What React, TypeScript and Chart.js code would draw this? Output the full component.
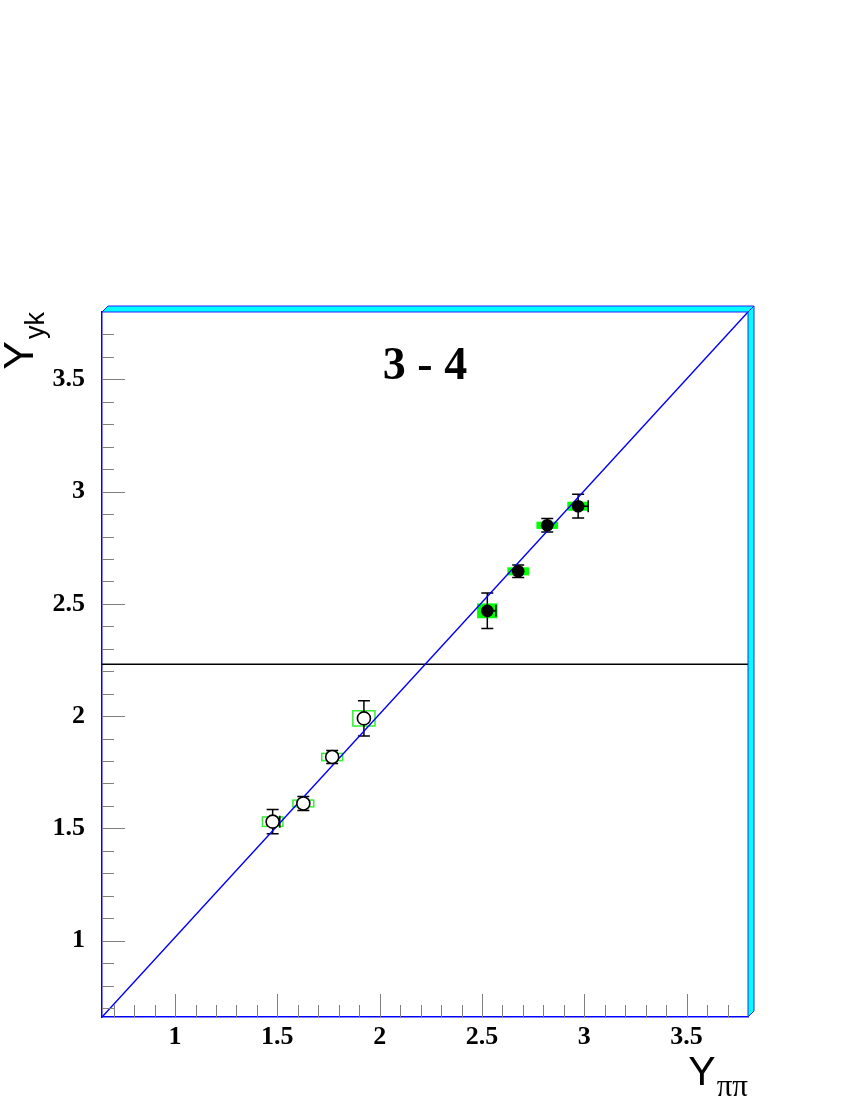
import React, { useEffect, useRef } from 'react';
import { Chart, registerables } from 'chart.js';

Chart.register(...registerables);

// Axis ranges
const xRange = [0.643, 3.8];
const yRange = [0.66, 3.8];

// Filled points (black markers, solid green systematic boxes)
const filledX = [2.526, 2.677, 2.819, 2.970];
const filledY = [2.469, 2.645, 2.850, 2.935];
const filledYErr = [0.079, 0.028, 0.030, 0.053];
const filledXErrHigh = [0.042, 0, 0, 0.049];
const filledSysX = [0.050, 0.053, 0.053, 0.053];
const filledSysY = [0.033, 0.018, 0.016, 0.020];

// Open points (white markers, outlined green systematic boxes)
const openX = [1.477, 1.627, 1.768, 1.923];
const openY = [1.530, 1.611, 1.818, 1.990];
const openYErr = [0.054, 0.031, 0.029, 0.079];
const openXErrHigh = [0.035, 0, 0, 0];
const openSysX = [0.050, 0.051, 0.051, 0.054];
const openSysY = [0.021, 0.015, 0.016, 0.034];

// Reference lines
const diagX = [0.643, 3.8];
const diagY = [0.66, 3.8];
const horizX = [0.643, 3.8];
const horizY = [2.231, 2.231];

const titleText = '3 - 4';

const isMajor = (v: number) => Math.abs(v * 2 - Math.round(v * 2)) < 1e-6;
const fmt = (v: number) => (isMajor(v) ? String(Math.round(v * 2) / 2) : '');

export default function App() {
  const ref = useRef<HTMLCanvasElement>(null);

  useEffect(() => {
    const canvas = ref.current!;

    const boxesAndErrors = {
      id: 'boxesAndErrors',
      beforeDatasetsDraw(chart: any) {
        const { ctx, chartArea, scales } = chart;
        const xs = scales.x, ys = scales.y;
        ctx.save();
        ctx.beginPath();
        ctx.rect(chartArea.left, chartArea.top, chartArea.right - chartArea.left, chartArea.bottom - chartArea.top);
        ctx.clip();
        // filled boxes
        ctx.fillStyle = '#00ff00';
        filledX.forEach((x, i) => {
          const x0 = xs.getPixelForValue(x - filledSysX[i]);
          const x1 = xs.getPixelForValue(x + filledSysX[i]);
          const y0 = ys.getPixelForValue(filledY[i] + filledSysY[i]);
          const y1 = ys.getPixelForValue(filledY[i] - filledSysY[i]);
          ctx.fillRect(x0, y0, x1 - x0, y1 - y0);
        });
        // open boxes
        ctx.strokeStyle = '#33ee33';
        ctx.lineWidth = 1.5;
        openX.forEach((x, i) => {
          const x0 = xs.getPixelForValue(x - openSysX[i]);
          const x1 = xs.getPixelForValue(x + openSysX[i]);
          const y0 = ys.getPixelForValue(openY[i] + openSysY[i]);
          const y1 = ys.getPixelForValue(openY[i] - openSysY[i]);
          ctx.strokeRect(x0, y0, x1 - x0, y1 - y0);
        });
        // error bars
        ctx.strokeStyle = '#000';
        ctx.lineWidth = 1.5;
        const cap = 6;
        const drawErr = (X: number[], Y: number[], E: number[], XH: number[]) => {
          X.forEach((x, i) => {
            const px = xs.getPixelForValue(x);
            const py = ys.getPixelForValue(Y[i]);
            const yt = ys.getPixelForValue(Y[i] + E[i]);
            const yb = ys.getPixelForValue(Y[i] - E[i]);
            ctx.beginPath();
            ctx.moveTo(px, yt); ctx.lineTo(px, yb);
            ctx.moveTo(px - cap, yt); ctx.lineTo(px + cap, yt);
            ctx.moveTo(px - cap, yb); ctx.lineTo(px + cap, yb);
            if (XH[i] > 0) {
              const xr = xs.getPixelForValue(x + XH[i]);
              ctx.moveTo(px, py); ctx.lineTo(xr, py);
              ctx.moveTo(xr, py - cap); ctx.lineTo(xr, py + cap);
            }
            ctx.stroke();
          });
        };
        drawErr(filledX, filledY, filledYErr, filledXErrHigh);
        drawErr(openX, openY, openYErr, openXErrHigh);
        ctx.restore();
      },
    };

    const decor = {
      id: 'decor',
      afterDraw(chart: any) {
        const { ctx, chartArea, scales } = chart;
        const { left: L, right: R, top: T, bottom: B } = chartArea;
        ctx.save();
        // tick marks (inward)
        ctx.strokeStyle = '#808080';
        ctx.lineWidth = 1;
        scales.x.ticks.forEach((t: any) => {
          const px = Math.round(scales.x.getPixelForValue(t.value)) + 0.5;
          if (px <= L + 1 || px >= R - 1) return;
          const len = isMajor(t.value) ? 23 : 12;
          ctx.beginPath();
          ctx.moveTo(px, B);
          ctx.lineTo(px, B - len);
          ctx.stroke();
        });
        scales.y.ticks.forEach((t: any) => {
          const py = Math.round(scales.y.getPixelForValue(t.value)) + 0.5;
          if (py <= T + 1 || py >= B - 1) return;
          const len = isMajor(t.value) ? 23 : 12;
          ctx.beginPath();
          ctx.moveTo(L, py);
          ctx.lineTo(L + len, py);
          ctx.stroke();
        });
        // frame bevel (top and right)
        const d = 6;
        ctx.fillStyle = '#00ffff';
        ctx.strokeStyle = '#2222ff';
        ctx.lineWidth = 1;
        ctx.beginPath();
        ctx.moveTo(L, T); ctx.lineTo(L + d, T - d); ctx.lineTo(R + d, T - d); ctx.lineTo(R, T); ctx.closePath();
        ctx.fill(); ctx.stroke();
        ctx.beginPath();
        ctx.moveTo(R, T); ctx.lineTo(R + d, T - d); ctx.lineTo(R + d, B - d); ctx.lineTo(R, B); ctx.closePath();
        ctx.fill(); ctx.stroke();
        // title
        ctx.fillStyle = '#000';
        ctx.font = 'bold 46px "Liberation Serif"';
        ctx.textAlign = 'center';
        ctx.textBaseline = 'alphabetic';
        ctx.fillText(titleText, 425, 379);
        // x axis label  Y_ππ
        ctx.textAlign = 'left';
        ctx.font = '41px "Liberation Sans"';
        const wY = ctx.measureText('Y').width;
        ctx.font = '31px "Liberation Serif"';
        const wPi = ctx.measureText('ππ').width;
        const xStart = R - wY - wPi - 1;
        ctx.font = '41px "Liberation Sans"';
        ctx.fillText('Y', xStart, 1085);
        ctx.font = '31px "Liberation Serif"';
        ctx.fillText('ππ', xStart + wY + 1, 1096);
        // y axis label  Y_yk (rotated)
        ctx.save();
        ctx.translate(32, T);
        ctx.rotate(-Math.PI / 2);
        ctx.font = '43px "Liberation Sans"';
        const wY2 = ctx.measureText('Y').width;
        ctx.font = '27px "Liberation Sans"';
        const wSub = ctx.measureText('yk').width;
        const W = wY2 + wSub + 2;
        ctx.font = '43px "Liberation Sans"';
        ctx.fillText('Y', -W, 1);
        ctx.font = '27px "Liberation Sans"';
        ctx.fillText('yk', -W + wY2 + 2, 12);
        ctx.restore();
        ctx.restore();
      },
    };

    const chart = new Chart(canvas, {
      type: 'scatter',
      data: {
        datasets: [
          {
            data: filledX.map((x, i) => ({ x, y: filledY[i] })),
            pointRadius: 6.3,
            pointBackgroundColor: '#000',
            pointBorderColor: '#000',
            pointBorderWidth: 0,
            showLine: false,
          },
          {
            data: openX.map((x, i) => ({ x, y: openY[i] })),
            pointRadius: 6.5,
            pointBackgroundColor: '#fff',
            pointBorderColor: '#000',
            pointBorderWidth: 1.6,
            showLine: false,
          },
          {
            data: diagX.map((x, i) => ({ x, y: diagY[i] })),
            showLine: true,
            pointRadius: 0,
            borderColor: '#0000ff',
            borderWidth: 1.5,
          },
          {
            data: horizX.map((x, i) => ({ x, y: horizY[i] })),
            showLine: true,
            pointRadius: 0,
            borderColor: '#000',
            borderWidth: 1.5,
          },
        ],
      },
      options: {
        responsive: false,
        animation: false,
        devicePixelRatio: 1,
        layout: { padding: { left: 0, top: 312, right: 102, bottom: 0 } },
        plugins: { legend: { display: false }, tooltip: { enabled: false }, title: { display: false } },
        scales: {
          x: {
            type: 'linear',
            min: xRange[0],
            max: xRange[1],
            afterFit: (s: any) => { s.height = 83; },
            grid: { display: false, drawTicks: false, tickLength: 0 },
            border: { display: true, color: '#0000ff', width: 1.5 },
            ticks: {
              stepSize: 0.1,
              autoSkip: false,
              includeBounds: false,
              maxRotation: 0,
              minRotation: 0,
              padding: 5,
              color: '#000',
              font: { family: '"Liberation Serif"', weight: 'bold', size: 26 },
              callback: (v: any) => fmt(Number(v)),
            },
          },
          y: {
            type: 'linear',
            min: yRange[0],
            max: yRange[1],
            afterFit: (s: any) => { s.width = 102; },
            grid: { display: false, drawTicks: false, tickLength: 0 },
            border: { display: true, color: '#0000ff', width: 1.5 },
            ticks: {
              stepSize: 0.1,
              autoSkip: false,
              includeBounds: false,
              padding: 17,
              color: '#000',
              font: { family: '"Liberation Serif"', weight: 'bold', size: 26 },
              callback: (v: any) => fmt(Number(v)),
            },
          },
        },
      } as any,
      plugins: [boxesAndErrors, decor],
    });
    return () => chart.destroy();
  }, []);

  return (
    <div style={{ position: 'absolute', left: 0, top: 0, width: 850, height: 1100, background: '#fff' }}>
      <canvas ref={ref} width={850} height={1100} style={{ display: 'block', width: 850, height: 1100 }} />
    </div>
  );
}
